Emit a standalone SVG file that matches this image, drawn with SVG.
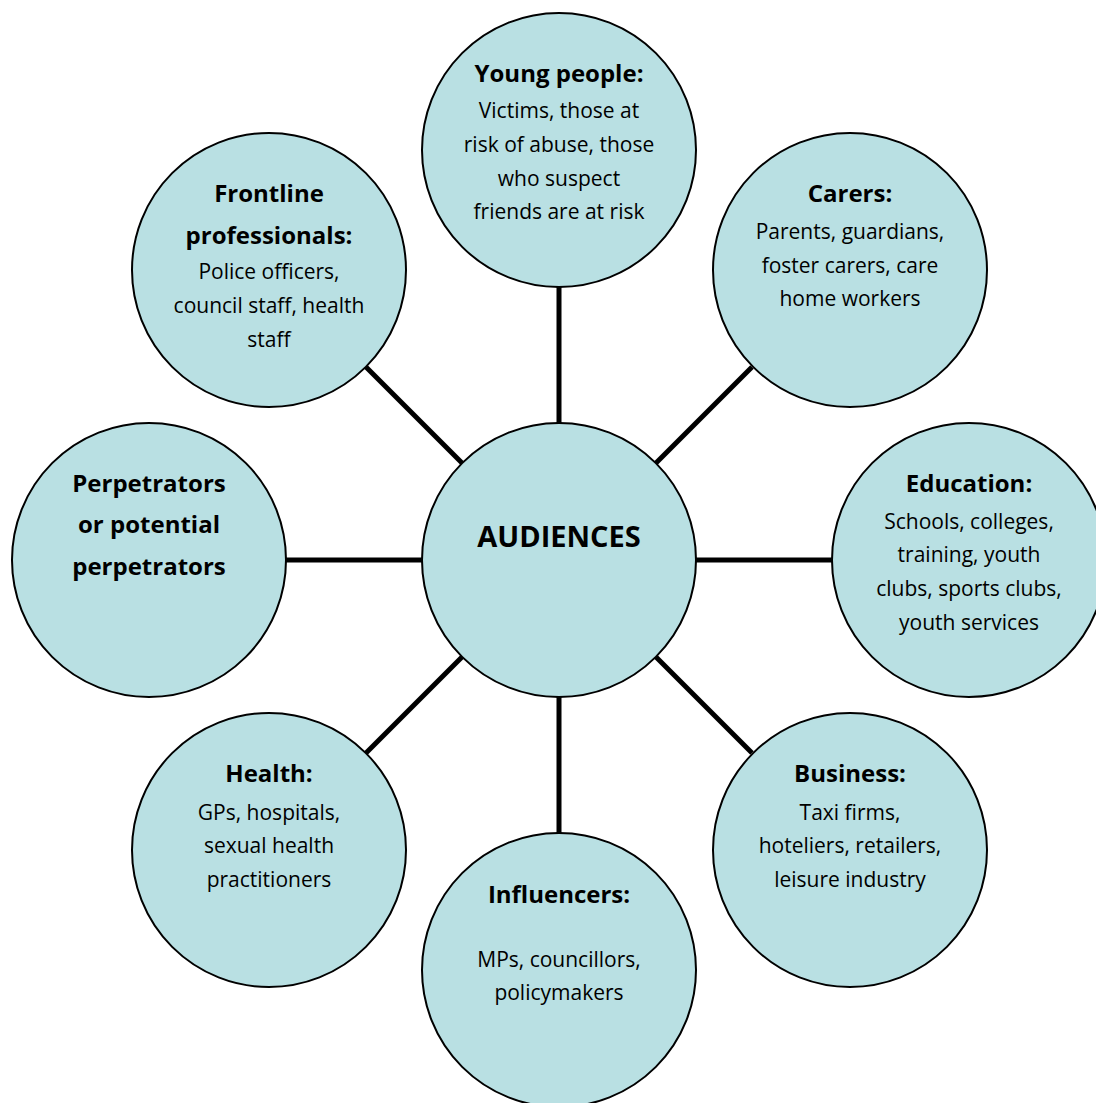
<svg xmlns="http://www.w3.org/2000/svg" width="1096" height="1103" viewBox="0 0 1096 1103">
<style>
.c{fill:#B9E0E3;stroke:#000;stroke-width:2}
.t{font-family:"Open Sans",Lato,"Liberation Sans",sans-serif;font-size:21px;fill:#000;text-anchor:middle}
.h{font-family:"Open Sans",Lato,"Liberation Sans",sans-serif;font-size:24px;font-weight:bold;fill:#000;text-anchor:middle}
.m{font-family:"Open Sans",Lato,"Liberation Sans",sans-serif;font-size:29px;font-weight:bold;fill:#000;text-anchor:middle}
.l{stroke:#000;stroke-width:5;fill:none}
</style>
<rect width="1096" height="1103" fill="#fff"/>
<g id="connectors">
<line class="l" x1="559" y1="423" x2="559" y2="287"/>
<line class="l" x1="559" y1="697" x2="559" y2="833"/>
<line class="l" x1="422" y1="560" x2="286" y2="560"/>
<line class="l" x1="696" y1="560" x2="832" y2="560"/>
<line class="l" x1="656" y1="463" x2="752" y2="367"/>
<line class="l" x1="462" y1="463" x2="366" y2="367"/>
<line class="l" x1="656" y1="657" x2="752" y2="753"/>
<line class="l" x1="462" y1="657" x2="366" y2="753"/>
</g>
<g id="audiences">
<circle class="c" cx="559" cy="560" r="137"/>
<text class="m" x="559" y="547">AUDIENCES</text>
</g>
<g id="young-people">
<circle class="c" cx="559" cy="150" r="137"/>
<text class="h" x="559" y="82">Young people:</text>
<text class="t" x="559" y="118">Victims, those at</text>
<text class="t" x="559" y="152">risk of abuse, those</text>
<text class="t" x="559" y="186">who suspect</text>
<text class="t" x="559" y="219">friends are at risk</text>
</g>
<g id="carers">
<circle class="c" cx="850" cy="270" r="137"/>
<text class="h" x="850" y="202">Carers:</text>
<text class="t" x="850" y="239">Parents, guardians,</text>
<text class="t" x="850" y="273">foster carers, care</text>
<text class="t" x="850" y="306">home workers</text>
</g>
<g id="education">
<circle class="c" cx="969" cy="560" r="137"/>
<text class="h" x="969" y="492">Education:</text>
<text class="t" x="969" y="529">Schools, colleges,</text>
<text class="t" x="969" y="562">training, youth</text>
<text class="t" x="969" y="596">clubs, sports clubs,</text>
<text class="t" x="969" y="630">youth services</text>
</g>
<g id="business">
<circle class="c" cx="850" cy="850" r="137"/>
<text class="h" x="850" y="782">Business:</text>
<text class="t" x="850" y="820">Taxi firms,</text>
<text class="t" x="850" y="853">hoteliers, retailers,</text>
<text class="t" x="850" y="887">leisure industry</text>
</g>
<g id="influencers">
<circle class="c" cx="559" cy="970" r="137"/>
<text class="h" x="559" y="903">Influencers:</text>
<text class="t" x="559" y="967">MPs, councillors,</text>
<text class="t" x="559" y="1000">policymakers</text>
</g>
<g id="health">
<circle class="c" cx="269" cy="850" r="137"/>
<text class="h" x="269" y="782">Health:</text>
<text class="t" x="269" y="820">GPs, hospitals,</text>
<text class="t" x="269" y="853">sexual health</text>
<text class="t" x="269" y="887">practitioners</text>
</g>
<g id="perpetrators">
<circle class="c" cx="149" cy="560" r="137"/>
<text class="h" x="149" y="492">Perpetrators</text>
<text class="h" x="149" y="533">or potential</text>
<text class="h" x="149" y="575">perpetrators</text>
</g>
<g id="frontline">
<circle class="c" cx="269" cy="270" r="137"/>
<text class="h" x="269" y="202">Frontline</text>
<text class="h" x="269" y="244">professionals:</text>
<text class="t" x="269" y="279">Police officers,</text>
<text class="t" x="269" y="313">council staff, health</text>
<text class="t" x="269" y="347">staff</text>
</g>
</svg>
